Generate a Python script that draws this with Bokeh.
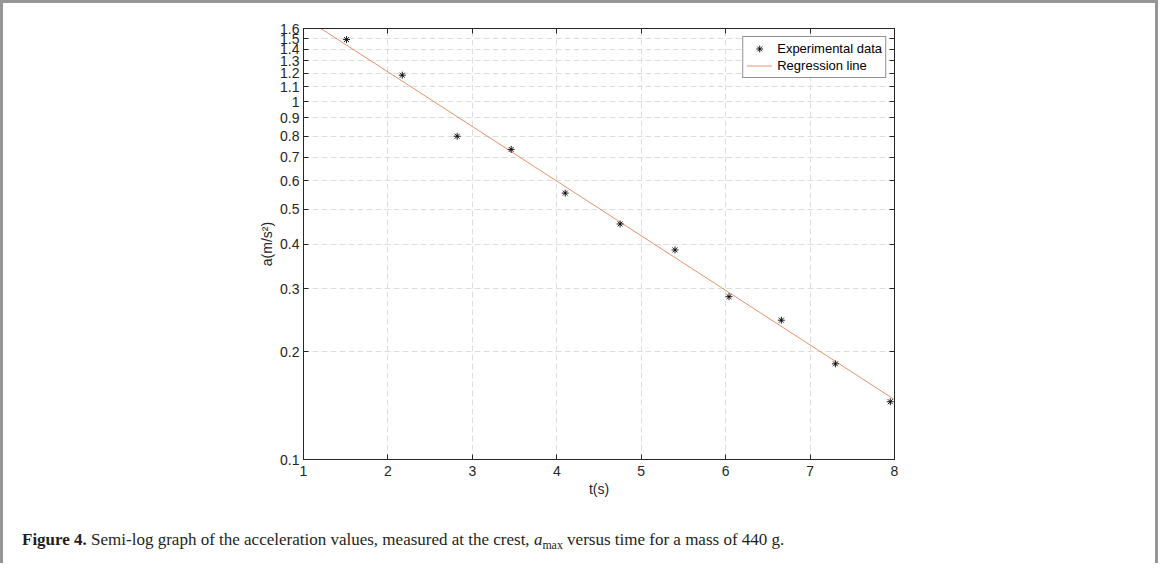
from bokeh.plotting import figure
from bokeh.models import Range1d, LinearAxis, LogAxis, FixedTicker, Div
from bokeh.layouts import column
from bokeh.embed import file_html
from bokeh.resources import INLINE

# ---- data ----
t_exp = [1.51, 2.17, 2.82, 3.46, 4.10, 4.75, 5.40, 6.04, 6.66, 7.30, 7.95]
a_exp = [1.49, 1.185, 0.80, 0.735, 0.555, 0.455, 0.385, 0.285, 0.245, 0.185, 0.145]
t_reg = [1.0, 8.0]
a_reg = [1.72, 0.147]
x_ticks = [1, 2, 3, 4, 5, 6, 7, 8]
y_ticks = [0.1, 0.2, 0.3, 0.4, 0.5, 0.6, 0.7, 0.8, 0.9, 1.0, 1.1, 1.2, 1.3, 1.4, 1.5, 1.6]
y_tick_labels = ["0.1", "0.2", "0.3", "0.4", "0.5", "0.6", "0.7", "0.8", "0.9", "1",
                 "1.1", "1.2", "1.3", "1.4", "1.5", "1.6"]
x_label = "t(s)"
y_label = "a(m/s²)"
caption_html = ('<b>Figure 4.</b> Semi-log graph of the acceleration values, measured at the crest, '
                '<i>a</i><sub style="font-size:70%">max</sub> versus time for a mass of 440 g.')

AX = "#262626"
FONT = "Liberation Sans"

p = figure(width=1152, height=522, y_axis_type="log",
           x_range=Range1d(1, 8), y_range=Range1d(0.1, 1.6),
           output_backend="svg", toolbar_location=None,
           min_border_left=300, min_border_right=261,
           min_border_top=25, min_border_bottom=66)
p.outline_line_color = AX
p.background_fill_color = "white"
p.border_fill_color = "white"

# grids
p.xgrid.ticker = FixedTicker(ticks=x_ticks)
p.ygrid.ticker = FixedTicker(ticks=y_ticks)
for g in (p.xgrid, p.ygrid):
    g.grid_line_color = "#dedede"
    g.grid_line_dash = "6 3"
    g.grid_line_width = 1

def style_axis(ax):
    ax.axis_line_color = AX
    ax.major_tick_line_color = AX
    ax.major_tick_in = 5
    ax.major_tick_out = 0
    ax.minor_tick_line_color = None
    ax.major_label_text_font = FONT
    ax.major_label_text_font_size = "14px"
    ax.major_label_text_color = AX
    ax.axis_label_text_font = FONT
    ax.axis_label_text_font_size = "14px"
    ax.axis_label_text_color = AX
    ax.axis_label_text_font_style = "normal"

xa = p.xaxis[0]
xa.ticker = FixedTicker(ticks=x_ticks)
xa.axis_label = x_label
style_axis(xa)
xa.major_label_standoff = 6
xa.axis_label_standoff = 2

ya = p.yaxis[0]
ya.ticker = FixedTicker(ticks=y_ticks)
ya.major_label_overrides = {v: s for v, s in zip(y_ticks, y_tick_labels)}
ya.axis_label = y_label
style_axis(ya)
ya.major_label_standoff = 4
ya.axis_label_standoff = 2

top = LinearAxis(ticker=FixedTicker(ticks=x_ticks),
                 major_label_overrides={v: "" for v in x_ticks})
style_axis(top)
p.add_layout(top, "above")
right = LogAxis(ticker=FixedTicker(ticks=y_ticks),
                major_label_overrides={v: "" for v in y_ticks})
style_axis(right)
p.add_layout(right, "right")

p.line(t_reg, a_reg, line_color="#D95319", line_width=0.8, line_alpha=0.8,
       legend_label="Regression line")
p.scatter(t_exp, a_exp, marker="asterisk", size=7, line_color="black", line_width=0.9,
          legend_label="Experimental data")

lg = p.legend[0]
lg.items = [lg.items[1], lg.items[0]]
lg.location = "top_right"
lg.margin = 8
lg.padding = 3
lg.spacing = 0
lg.label_height = 17
lg.glyph_height = 17
lg.glyph_width = 26
lg.label_standoff = 5
lg.label_text_font = FONT
lg.label_text_font_size = "13px"
lg.label_text_color = "black"
lg.border_line_color = AX
lg.border_line_width = 1
lg.background_fill_color = "white"
lg.background_fill_alpha = 1

cap = Div(text=caption_html, width=1152, height=38,
          styles={"font-family": "'Liberation Serif', serif", "font-size": "17px",
                  "color": "#231f20", "padding-left": "19px", "padding-top": "3px",
                  "margin": "0"})

lay = column(p, cap, spacing=0,
             styles={"border-top": "3px solid #969696",
                     "border-left": "3px solid #969696",
                     "border-right": "3px solid #969696"})

open("out.html", "w").write(file_html(lay, INLINE))
